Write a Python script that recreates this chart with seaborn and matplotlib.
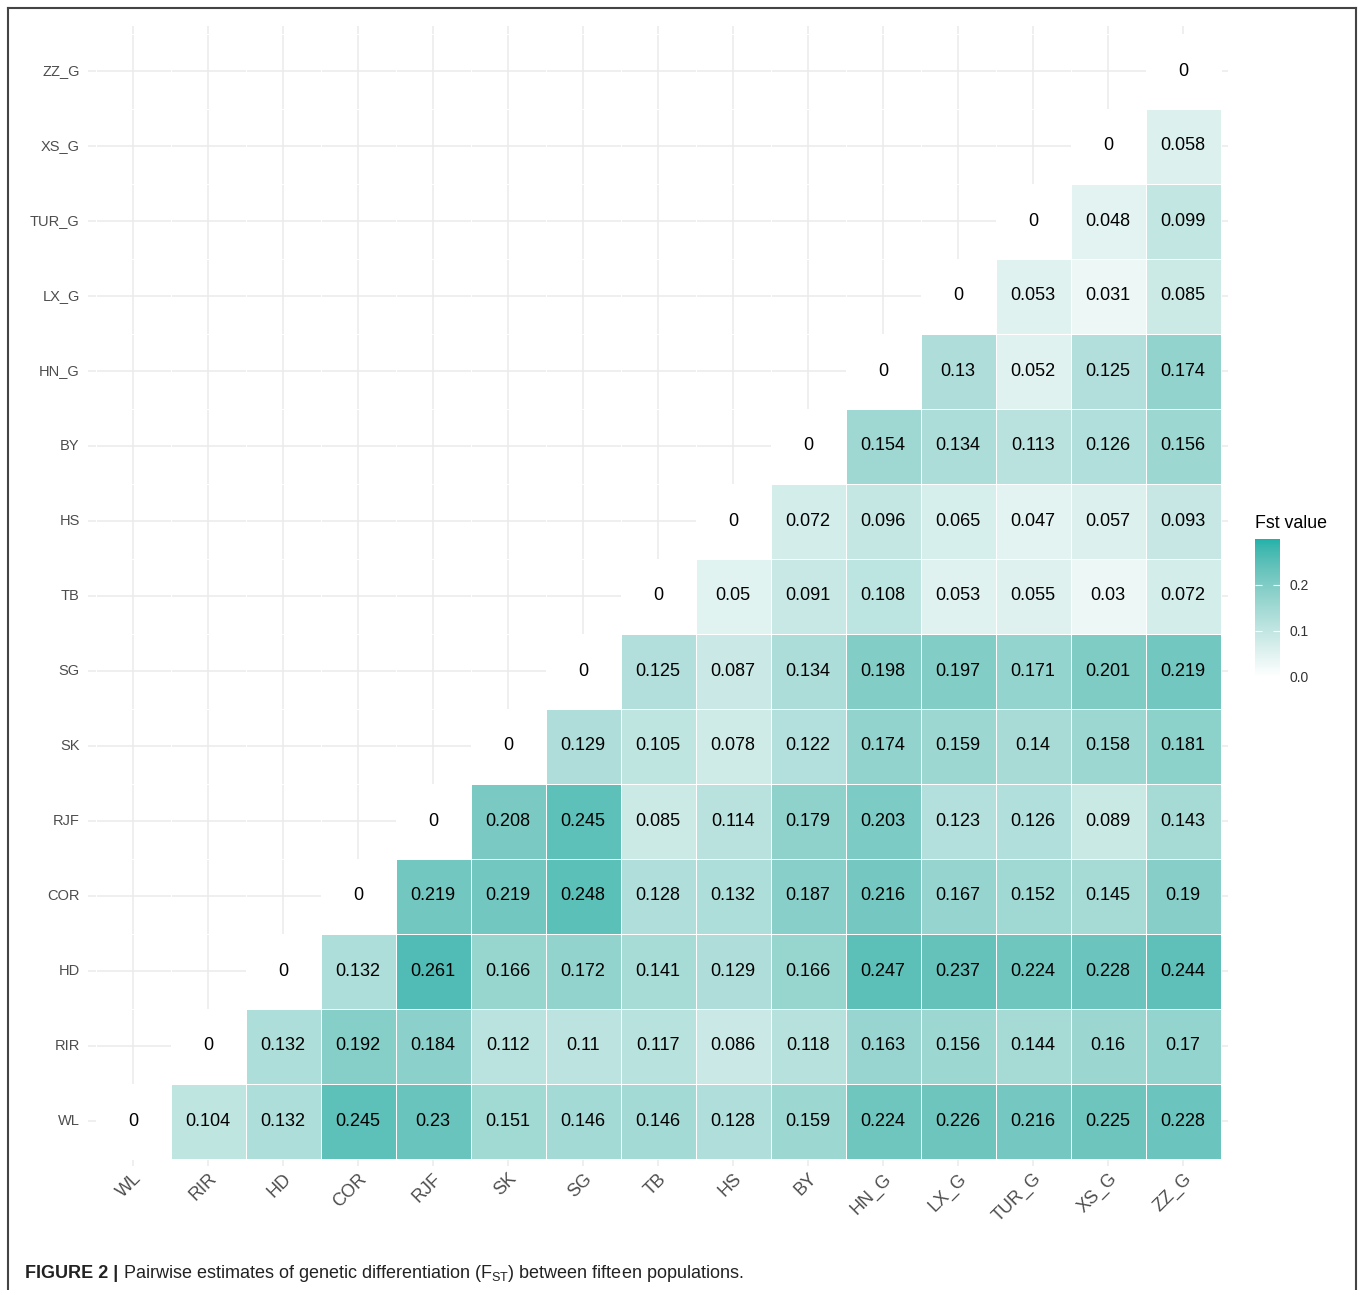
import numpy as np
import pandas as pd
import matplotlib
matplotlib.use("Agg")
import matplotlib.pyplot as plt
from matplotlib.colors import ListedColormap, to_rgb
from matplotlib.lines import Line2D
import seaborn as sns

plt.rcParams["font.family"] = ["Liberation Sans", "DejaVu Sans"]
plt.rcParams["mathtext.fontset"] = "custom"
plt.rcParams["mathtext.rm"] = "Liberation Sans"

populations = ["WL", "RIR", "HD", "COR", "RJF", "SK", "SG", "TB", "HS", "BY",
               "HN_G", "LX_G", "TUR_G", "XS_G", "ZZ_G"]

# Pairwise FST: each list holds one population against every later population
fst_WL = [0.104, 0.132, 0.245, 0.23, 0.151, 0.146, 0.146, 0.128, 0.159, 0.224, 0.226, 0.216, 0.225, 0.228]
fst_RIR = [0.132, 0.192, 0.184, 0.112, 0.11, 0.117, 0.086, 0.118, 0.163, 0.156, 0.144, 0.16, 0.17]
fst_HD = [0.132, 0.261, 0.166, 0.172, 0.141, 0.129, 0.166, 0.247, 0.237, 0.224, 0.228, 0.244]
fst_COR = [0.219, 0.219, 0.248, 0.128, 0.132, 0.187, 0.216, 0.167, 0.152, 0.145, 0.19]
fst_RJF = [0.208, 0.245, 0.085, 0.114, 0.179, 0.203, 0.123, 0.126, 0.089, 0.143]
fst_SK = [0.129, 0.105, 0.078, 0.122, 0.174, 0.159, 0.14, 0.158, 0.181]
fst_SG = [0.125, 0.087, 0.134, 0.198, 0.197, 0.171, 0.201, 0.219]
fst_TB = [0.05, 0.091, 0.108, 0.053, 0.055, 0.03, 0.072]
fst_HS = [0.072, 0.096, 0.065, 0.047, 0.057, 0.093]
fst_BY = [0.154, 0.134, 0.113, 0.126, 0.156]
fst_HN_G = [0.13, 0.052, 0.125, 0.174]
fst_LX_G = [0.053, 0.031, 0.085]
fst_TUR_G = [0.048, 0.099]
fst_XS_G = [0.058]

rows = [fst_WL, fst_RIR, fst_HD, fst_COR, fst_RJF, fst_SK, fst_SG, fst_TB,
        fst_HS, fst_BY, fst_HN_G, fst_LX_G, fst_TUR_G, fst_XS_G, []]

n = len(populations)
mat = np.full((n, n), np.nan)
for i, vals in enumerate(rows):
    mat[i, i] = 0.0
    for k, v in enumerate(vals):
        mat[i, i + 1 + k] = v

# top row of the heatmap is the last population
df = pd.DataFrame(mat[::-1], index=populations[::-1], columns=populations)
labels = df.map(lambda v: "" if np.isnan(v) else f"{v:g}")


# white -> teal gradient interpolated in CIELAB
def _srgb_to_lab(c):
    c = np.asarray(c, float)
    lin = np.where(c <= 0.04045, c / 12.92, ((c + 0.055) / 1.055) ** 2.4)
    M = np.array([[0.4124, 0.3576, 0.1805],
                  [0.2126, 0.7152, 0.0722],
                  [0.0193, 0.1192, 0.9505]])
    xyz = M @ lin / np.array([0.95047, 1.0, 1.08883])
    f = np.where(xyz > 216 / 24389, np.cbrt(xyz), (24389 / 27 * xyz + 16) / 116)
    return np.array([116 * f[1] - 16, 500 * (f[0] - f[1]), 200 * (f[1] - f[2])])


def _lab_to_srgb(lab):
    L, a, b = lab
    fy = (L + 16) / 116
    fx = fy + a / 500
    fz = fy - b / 200
    f = np.array([fx, fy, fz])
    xyz = np.where(f ** 3 > 216 / 24389, f ** 3, (116 * f - 16) / (24389 / 27))
    xyz = xyz * np.array([0.95047, 1.0, 1.08883])
    Minv = np.array([[3.2406, -1.5372, -0.4986],
                     [-0.9689, 1.8758, 0.0415],
                     [0.0557, -0.2040, 1.0570]])
    lin = np.clip(Minv @ xyz, 0, 1)
    c = np.where(lin <= 0.0031308, 12.92 * lin, 1.055 * lin ** (1 / 2.4) - 0.055)
    return np.clip(c, 0, 1)


lab_lo = _srgb_to_lab(to_rgb("#FFFFFF"))
lab_hi = _srgb_to_lab(to_rgb("#20B2AA"))
ramp = [_lab_to_srgb(lab_lo + t * (lab_hi - lab_lo)) for t in np.linspace(0, 1, 256)]
cmap = ListedColormap(ramp, name="fst")

W, H = 1360, 1290
fig = plt.figure(figsize=(W / 100, H / 100), dpi=100)
ax = fig.add_axes([88 / W, 1 - 1166 / H, 1140 / W, 1140 / H])
cax = fig.add_axes([1255 / W, 1 - 677 / H, 25 / W, 138 / H])

sns.heatmap(df, ax=ax, cbar_ax=cax, cmap=cmap, vmin=0, vmax=0.3,
            mask=df.isna(), annot=labels, fmt="",
            annot_kws={"fontsize": 13, "color": "black"},
            linewidths=0.6, linecolor="#FFFFFF", square=False)

ax.set_xlim(-0.1, n + 0.1)
ax.set_ylim(n + 0.1, -0.1)
ax.set_axisbelow(True)
ax.grid(True, color="#EBEBEB", linewidth=1.1)
for s in ax.spines.values():
    s.set_visible(False)
ax.set_xlabel("")
ax.set_ylabel("")
ax.tick_params(length=0, colors="#4D4D4D")
ax.tick_params(axis="y", pad=6, labelsize=10.5)
ax.tick_params(axis="x", pad=3, labelsize=13)
ax.set_yticklabels(populations[::-1], rotation=0)
ax.set_xticklabels(populations, rotation=45, ha="right", rotation_mode="anchor")

# colour bar
cb = ax.collections[0].colorbar
cb.outline.set_visible(False)
cb.set_ticks([0.0, 0.1, 0.2])
cb.set_ticklabels(["0.0", "0.1", "0.2"])
cax.tick_params(direction="in", color="white", length=5, width=0.8,
                left=True, right=True, labelleft=False, labelright=True,
                labelsize=10, labelcolor="#333333", pad=7)
fig.text(1255 / W, 1 - 523 / H, "Fst value", fontsize=12.8, va="center", ha="left")

# outer frame
frame_kw = dict(color="#444444", linewidth=1.5, transform=fig.transFigure)
fig.add_artist(Line2D([8 / W, 1356 / W], [1 - 8 / H, 1 - 8 / H], **frame_kw))
fig.add_artist(Line2D([8 / W, 8 / W], [1 - 8 / H, -0.01], **frame_kw))
fig.add_artist(Line2D([1356 / W, 1356 / W], [1 - 8 / H, -0.01], **frame_kw))

# caption
fig.canvas.draw()
renderer = fig.canvas.get_renderer()
t1 = fig.text(25 / W, 1 - 1274 / H, "FIGURE 2 |", fontsize=13, fontweight="bold",
              va="center", ha="left", color="#222222")
bb = t1.get_window_extent(renderer)
fig.text((bb.x1 + 5) / W, 1 - 1274 / H,
         r"Pairwise estimates of genetic differentiation (F$_{\mathregular{ST}}$) between fifteen populations.",
         fontsize=13, va="center", ha="left", color="#222222")

fig.savefig("out.png", dpi=100)
